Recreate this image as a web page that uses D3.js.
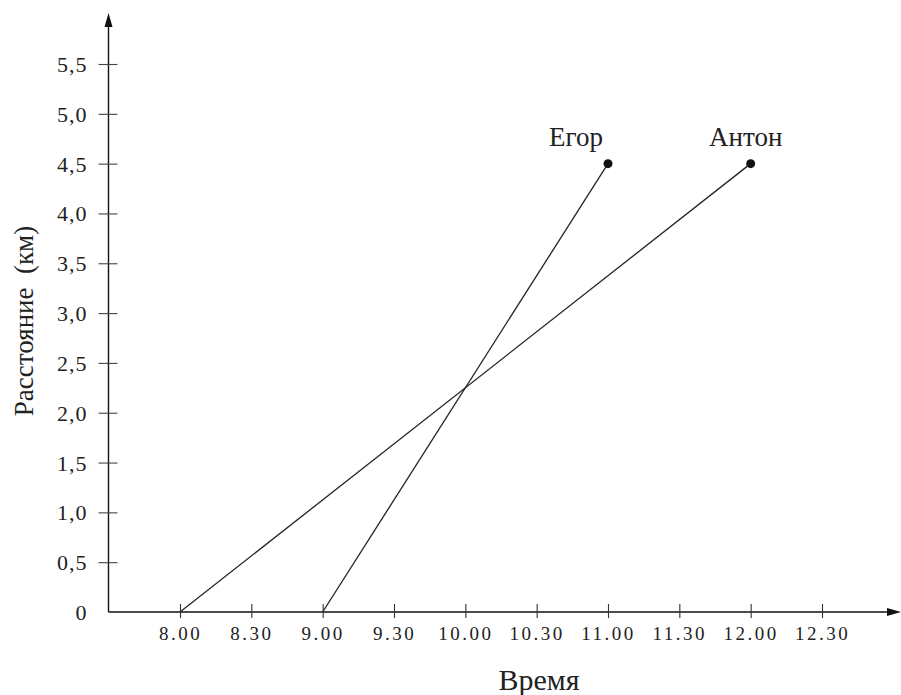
<!DOCTYPE html>
<html><head><meta charset="utf-8">
<script src="https://cdn.jsdelivr.net/npm/d3@7"></script>
<style>body{margin:0;background:#fff}svg{display:block}text{font-family:"Liberation Serif",Tinos,"Times New Roman",Times,"DejaVu Serif",serif;fill:#222}</style>
</head><body>
<svg id="c" width="901" height="695"></svg>
<script>
const timeTicks = [8, 8.5, 9, 9.5, 10, 10.5, 11, 11.5, 12, 12.5];
const timeLabels = ["8.00","8.30","9.00","9.30","10.00","10.30","11.00","11.30","12.00","12.30"];
const distTicks = [0, 0.5, 1, 1.5, 2, 2.5, 3, 3.5, 4, 4.5, 5, 5.5];
const distLabels = ["0","0,5","1,0","1,5","2,0","2,5","3,0","3,5","4,0","4,5","5,0","5,5"];
const seriesNames = ["Егор", "Антон"];
const egorTime = [9, 11];
const egorDist = [0, 4.5];
const antonTime = [8, 12];
const antonDist = [0, 4.5];

const FONT = '"Liberation Serif", Tinos, "Times New Roman", Times, "DejaVu Serif", serif';
const svg = d3.select("#c");
const x = d3.scaleLinear().domain([8, 12.5]).range([180, 822]);
const y = d3.scaleLinear().domain([0, 5.5]).range([612, 64]);
const ox = 108.5, oy = y(0);

svg.append("line").attr("x1", ox).attr("y1", oy).attr("x2", ox).attr("y2", 20)
  .attr("stroke", "#111").attr("stroke-width", 1.4);
svg.append("path").attr("d", `M${ox},13 L${ox-4},27 L${ox+4},27 Z`).attr("fill", "#111");
svg.append("line").attr("x1", ox).attr("y1", oy).attr("x2", 893).attr("y2", oy)
  .attr("stroke", "#111").attr("stroke-width", 1.4);
svg.append("path").attr("d", `M901,${oy} L887,${oy-4} L887,${oy+4} Z`).attr("fill", "#111");

const xAxis = d3.axisBottom(x).tickValues(timeTicks)
  .tickFormat((d, i) => timeLabels[i]).tickSize(0).tickPadding(0);
const gx = svg.append("g").attr("transform", `translate(0,${oy})`).call(xAxis)
  .attr("font-family", FONT);
gx.select(".domain").remove();
gx.selectAll(".tick line").attr("y1", -8).attr("y2", 6).attr("stroke", "#333").attr("stroke-width", 1.1);
gx.selectAll(".tick text").attr("y", 28).attr("dy", null)
  .attr("font-size", 19).attr("letter-spacing", 2.5).attr("fill", "#222");

const yAxis = d3.axisLeft(y).tickValues(distTicks)
  .tickFormat((d, i) => distLabels[i]).tickSize(0).tickPadding(0);
const gy = svg.append("g").attr("transform", `translate(${ox},0)`).call(yAxis)
  .attr("font-family", FONT);
gy.select(".domain").remove();
gy.selectAll(".tick line").attr("x1", d => d === 0 ? 0 : -10).attr("x2", d => d === 0 ? 0 : 9)
  .attr("stroke", "#444").attr("stroke-width", 1.1);
gy.selectAll(".tick text").attr("x", -21).attr("dy", "0.34em")
  .attr("font-size", 22).attr("letter-spacing", 1).attr("fill", "#222");

const series = [
  {name: seriesNames[0], t: egorTime, d: egorDist, dx: -32},
  {name: seriesNames[1], t: antonTime, d: antonDist, dx: -5}
];
const line = d3.line().x(p => x(p[0])).y(p => y(p[1]));
series.forEach(s => {
  const pts = s.t.map((t, i) => [t, s.d[i]]);
  svg.append("path").attr("d", line(pts)).attr("fill", "none")
    .attr("stroke", "#222").attr("stroke-width", 1.3);
  const last = pts[pts.length - 1];
  svg.append("circle").attr("cx", x(last[0])).attr("cy", y(last[1])).attr("r", 4.5).attr("fill", "#111");
  svg.append("text").attr("x", x(last[0]) + s.dx).attr("y", y(last[1]) - 18)
    .attr("text-anchor", "middle").attr("font-size", 27).text(s.name);
});

svg.append("text").attr("x", 539).attr("y", 690).attr("text-anchor", "middle")
  .attr("font-size", 30).text("Время");
svg.append("text").attr("transform", "translate(33,321) rotate(-90)")
  .attr("text-anchor", "middle").attr("font-size", 27).text("Расстояние\u00a0 (км)");
</script>
</body></html>
